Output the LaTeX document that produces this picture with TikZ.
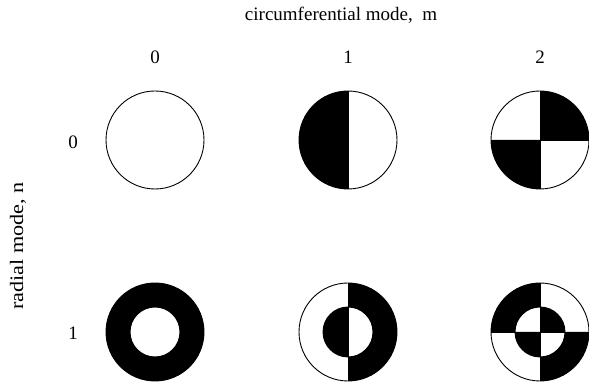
\documentclass[tikz,border=0pt]{standalone}
\usepackage{fontspec}
\setmainfont{Liberation Serif}
\usetikzlibrary{calc}
\begin{document}
\begin{tikzpicture}[x=1pt,y=1pt,
  lbl/.style={font=\fontsize{19}{22}\selectfont, inner sep=0pt},
  edge/.style={line width=0.9pt, line join=round}]
\useasboundingbox (0,0) rectangle (589,387);
\def\R{49}
\def\r{25}
\coordinate (c00) at (155,247);
\coordinate (c10) at (348,247);
\coordinate (c20) at (540,247);
\coordinate (c01) at (155,55);
\coordinate (c11) at (348,55);
\coordinate (c21) at (540,55);
% labels
\node[lbl] (title) at (341,372) {circumferential mode,\ \ m};
\node[lbl] (m0) at (155,330) {0};
\node[lbl] (m1) at (348,330) {1};
\node[lbl] (m2) at (540,330) {2};
\node[lbl] (n0) at (73,245) {0};
\node[lbl] (n1) at (73,54) {1};
\node[lbl] (nlab) at (18,141) {\rotatebox{90}{\scalebox{1.17}[1]{radial mode, n}}};
% n=0, m=1
\fill (c10) ++(90:\R) arc[start angle=90,end angle=270,radius=\R] -- cycle;
% n=0, m=2
\fill (c20) -- ++(0:\R) arc[start angle=0,end angle=90,radius=\R] -- cycle;
\fill (c20) -- ++(180:\R) arc[start angle=180,end angle=270,radius=\R] -- cycle;
% n=1, m=0
\fill[even odd rule] (c01) circle[radius=\R] (c01) circle[radius=\r];
% n=1, m=1
\fill (c11) ++(90:\R) arc[start angle=90,end angle=-90,radius=\R] -- ++(0,{\R-\r}) arc[start angle=-90,end angle=90,radius=\r] -- cycle;
\fill (c11) ++(90:\r) arc[start angle=90,end angle=270,radius=\r] -- cycle;
% n=1, m=2
\fill (c21) ++(90:\R) arc[start angle=90,end angle=180,radius=\R] -- ++({\R-\r},0) arc[start angle=180,end angle=90,radius=\r] -- cycle;
\fill (c21) ++(0:\R) arc[start angle=0,end angle=-90,radius=\R] -- ++(0,{\R-\r}) arc[start angle=-90,end angle=0,radius=\r] -- cycle;
\fill (c21) -- ++(0:\r) arc[start angle=0,end angle=90,radius=\r] -- cycle;
\fill (c21) -- ++(180:\r) arc[start angle=180,end angle=270,radius=\r] -- cycle;
% outlines
\foreach \c in {c00,c10,c20,c01,c11,c21} \draw[edge] (\c) circle[radius=\R];
\foreach \c in {c01,c11,c21} \draw[edge] (\c) circle[radius=\r];
\foreach \c in {c10,c20,c11,c21} \draw[edge] ($(\c)+(0,\R)$) -- ($(\c)+(0,-\R)$);
\foreach \c in {c20,c21} \draw[edge] ($(\c)+(-\R,0)$) -- ($(\c)+(\R,0)$);
\end{tikzpicture}
\end{document}
